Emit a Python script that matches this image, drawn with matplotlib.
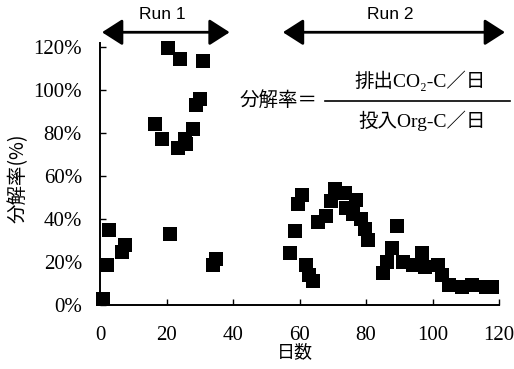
import matplotlib
matplotlib.use("Agg")
import matplotlib.pyplot as plt
from matplotlib.lines import Line2D
from matplotlib.ticker import FuncFormatter

# データ
run1_day = [1, 2, 2.8, 6.5, 7.5, 16.5, 18.5, 20.5, 21, 23.5, 24, 25.5, 26, 28,
            29, 30, 31, 34, 35]
run1_pct = [3, 18.5, 35, 24.5, 28, 84.5, 77.5, 119.5, 33, 73, 114.5, 77.5, 75, 82,
            93, 96, 113.5, 18.5, 21.5]

run2_day = [57, 58.6, 59.6, 60.8, 62, 63, 64, 65.6, 68, 69.5, 70.7, 73.7, 74, 76,
            77, 78.5, 79.7, 80.7, 85, 86.3, 87.8, 89.3, 91, 94, 96.8, 97.7, 101.6,
            103, 105, 109, 112, 116, 118]
run2_pct = [24, 34.6, 47, 51, 18.5, 14, 11, 38.5, 41.5, 48.5, 54, 52, 45, 42.5,
            49, 40, 35.5, 30.5, 15, 20, 26.5, 37, 20, 18.6, 24, 17.7, 18.6,
            14, 9.3, 8.4, 9.3, 8.4, 8.4]

xticks = [0, 20, 40, 60, 80, 100, 120]
yticks = [0, 20, 40, 60, 80, 100, 120]

W, H = 514, 369
serif = ['Liberation Serif', 'Noto Sans CJK JP', 'DejaVu Sans']
cjk = ['Noto Sans CJK JP', 'DejaVu Sans']

fig = plt.figure(figsize=(W / 100, H / 100), dpi=100)
ax = fig.add_axes([100 / W, 1 - 305 / H, 399 / W, 262 / H])

pts = run1_day + run2_day
vals = run1_pct + run2_pct
ax.scatter(pts, vals, marker='s', s=110, color='black', linewidths=0, clip_on=False, zorder=3)

ax.set_xlim(0, 120)
ax.set_ylim(0, 122)
ax.set_xticks(xticks)
ax.set_yticks(yticks)
ax.yaxis.set_major_formatter(FuncFormatter(lambda v, p: f"{v:.0f}%"))
for s in ['top', 'right']:
    ax.spines[s].set_visible(False)
for s in ['left', 'bottom']:
    ax.spines[s].set_linewidth(1.4)
ax.tick_params(direction='in', length=4, width=1, labelsize=15)
ax.tick_params(axis='x', pad=15)
ax.tick_params(axis='y', pad=13)
for lab in ax.get_xticklabels() + ax.get_yticklabels():
    lab.set_family(serif)

# Run の矢印
arrow_kw = dict(arrowstyle='<|-|>,head_length=1.25,head_width=0.8', color='black',
                lw=2, shrinkA=0, shrinkB=0, mutation_scale=10)
ax.annotate('', xy=(0.6, 127), xytext=(39, 127), arrowprops=arrow_kw, annotation_clip=False)
ax.annotate('', xy=(55, 127), xytext=(121.8, 127), arrowprops=arrow_kw, annotation_clip=False)
ax.text(18.6, 135.5, 'Run 1', ha='center', va='center', fontsize=12.5,
        family='Liberation Sans', clip_on=False)
ax.text(87.2, 135.5, 'Run 2', ha='center', va='center', fontsize=12.5,
        family='Liberation Sans', clip_on=False)

# 分解率の式
fig.text(240 / W, 1 - 101 / H, '分解率＝', ha='left', va='center', fontsize=14, family=serif)
fig.add_artist(Line2D([325 / W, 510 / W], [1 - 101 / H, 1 - 101 / H], color='black', lw=1.2))
fig.text(420 / W, 1 - 81 / H, '排出CO₂-C／日', ha='center', va='center', fontsize=14, family=serif)
fig.text(422 / W, 1 - 121 / H, '投入Org-C／日', ha='center', va='center', fontsize=14, family=serif)

# 軸ラベル
fig.text(18 / W, 1 - 178 / H, '分解率(%)', rotation=90, ha='center', va='center',
         fontsize=14, family=cjk)
fig.text(295 / W, 1 - 352 / H, '日数', ha='center', va='center', fontsize=13, family=cjk)

fig.savefig('out.png', dpi=100)
